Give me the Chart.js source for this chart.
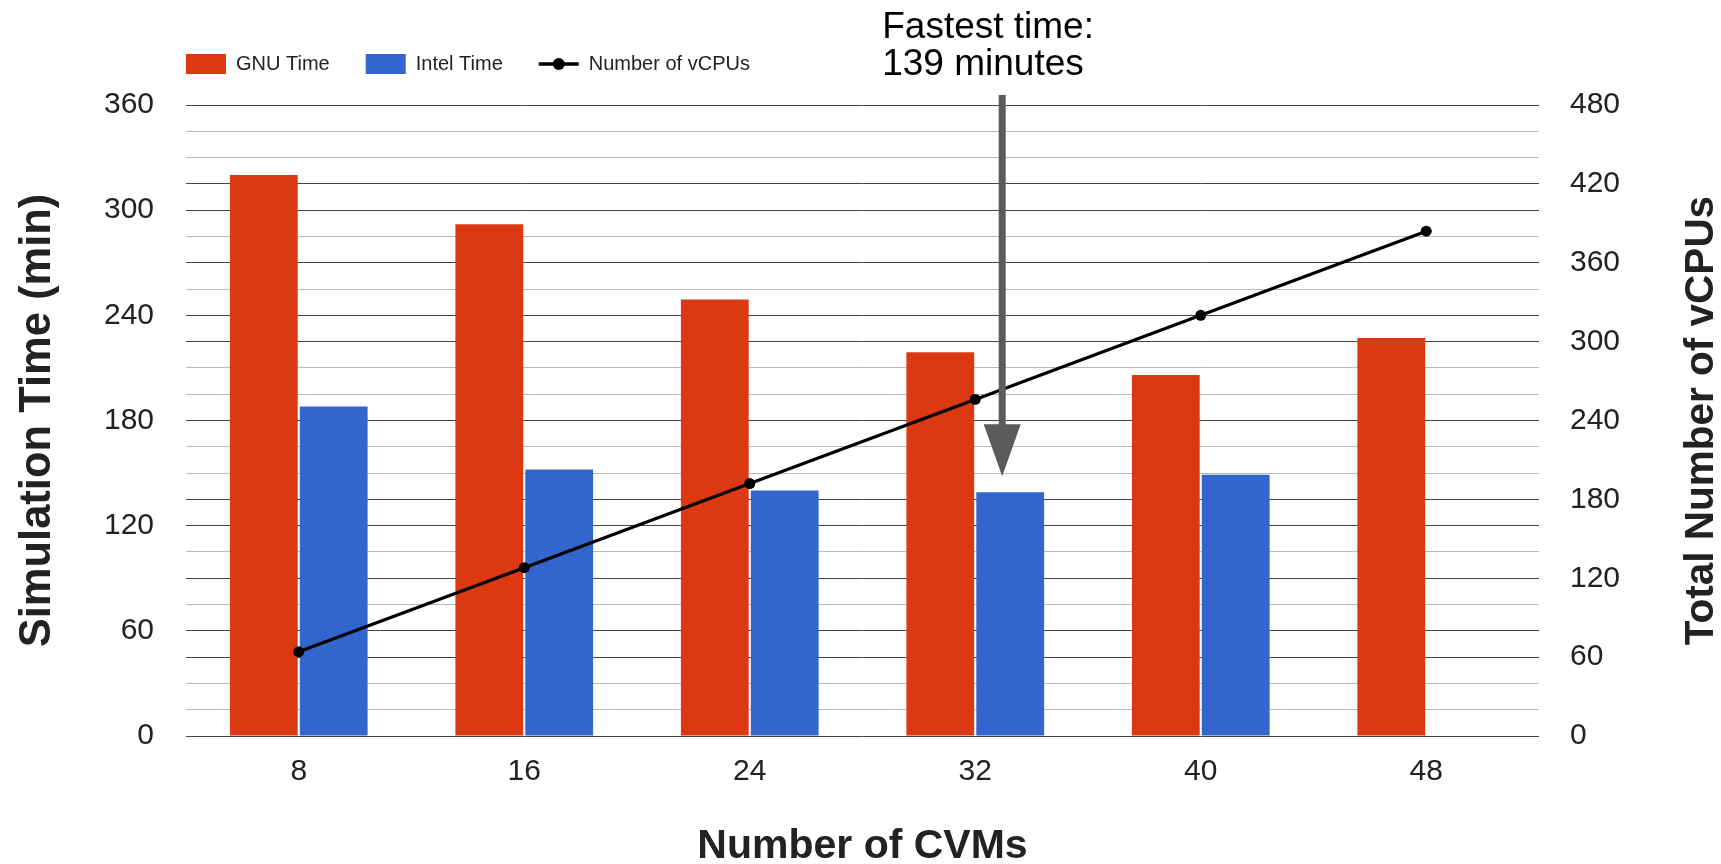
<!DOCTYPE html>
<html>
<head>
<meta charset="utf-8">
<title>Simulation Time vs Number of CVMs</title>
<script src="https://cdn.jsdelivr.net/npm/chart.js@4.4.1/dist/chart.umd.min.js"></script>
<style>
  html, body { margin: 0; padding: 0; background: #ffffff; }
  canvas { display: block; }
</style>
</head>
<body>
<canvas id="chart" width="1721" height="864" style="width:1721px;height:864px"></canvas>
<script>
// ---- data ----
const cvmCounts = ['8', '16', '24', '32', '40', '48'];
const gnuTime   = [320, 292, 249, 219, 206, 227];
const intelTime = [188, 152, 140, 139, 149, null];
const vcpuCount = [64, 128, 192, 256, 320, 384];
const timeTicks = [0, 60, 120, 180, 240, 300, 360];
const vcpuTicks = [0, 60, 120, 180, 240, 300, 360, 420, 480];

const seriesNames = ['GNU Time', 'Intel Time', 'Number of vCPUs'];
const axisTitles = {
  x: 'Number of CVMs',
  time: 'Simulation Time (min)',
  vcpu: 'Total Number of vCPUs'
};

// fastest Intel run, called out with an arrow
const fastestTime = Math.min(...intelTime.filter(v => v !== null));
const fastestIndex = intelTime.indexOf(fastestTime);
const noteLines = ['Fastest time:', fastestTime + ' minutes'];

// ---- styling ----
const FONT = "'Liberation Sans', Arial, Helvetica, sans-serif";
const TEXT = '#222222';
const RED = '#DC3912';
const BLUE = '#3366CC';
const GRID_DARK = '#444444';
const GRID_LIGHT = '#b9b9b9';
const ARROW = '#5b5b5b';
const PLOT_TOP = 105;
const LEGEND_FONT = 20;
const LEGEND_BOX_W = 40;
const LEGEND_BOX_H = 20;
const LEGEND_GAP = 36;
const LEGEND_X = 186;
const LEGEND_Y = 54;

Chart.defaults.font.family = FONT;
Chart.defaults.color = TEXT;

// legend placement, line-series legend marker, right axis title, callout arrow
const decorations = {
  id: 'decorations',
  beforeDraw(chart) {
    const lg = chart.legend;
    if (lg) {
      const w = lg.right - lg.left;
      lg.left = LEGEND_X - LEGEND_GAP;
      lg.right = lg.left + w;
      lg.top = LEGEND_Y - LEGEND_GAP;
    }
  },
  afterDraw(chart) {
    const { ctx, chartArea } = chart;

    // legend marker for the line series: a short line with a dot
    ctx.save();
    ctx.font = LEGEND_FONT + 'px ' + FONT;
    let x = LEGEND_X;
    for (let i = 0; i < 2; i++) {
      x += LEGEND_BOX_W + LEGEND_FONT / 2 + ctx.measureText(seriesNames[i]).width + LEGEND_GAP;
    }
    const my = LEGEND_Y + LEGEND_BOX_H / 2;
    ctx.strokeStyle = '#000';
    ctx.lineWidth = 3.5;
    ctx.beginPath();
    ctx.moveTo(x, my);
    ctx.lineTo(x + LEGEND_BOX_W, my);
    ctx.stroke();
    ctx.fillStyle = '#000';
    ctx.beginPath();
    ctx.arc(x + LEGEND_BOX_W / 2, my, 6, 0, Math.PI * 2);
    ctx.fill();
    ctx.restore();

    // right axis title, reading bottom to top
    ctx.save();
    ctx.translate(chart.width - 19, (chartArea.top + chartArea.bottom) / 2);
    ctx.rotate(-Math.PI / 2);
    ctx.font = 'bold 40.5px ' + FONT;
    ctx.fillStyle = TEXT;
    ctx.textAlign = 'center';
    ctx.textBaseline = 'middle';
    ctx.fillText(axisTitles.vcpu, 0, 0);
    ctx.restore();

    // callout arrow pointing at the fastest bar
    const bar = chart.getDatasetMeta(1).data[fastestIndex];
    if (bar) {
      const ax = bar.x - 8;
      const tipY = bar.y - 16;
      const headH = 52;
      const headHalf = 18.5;
      const shaftTop = 95;
      ctx.save();
      ctx.fillStyle = ARROW;
      ctx.fillRect(ax - 3.5, shaftTop, 7, tipY - headH - shaftTop + 1);
      ctx.beginPath();
      ctx.moveTo(ax - headHalf, tipY - headH);
      ctx.lineTo(ax + headHalf, tipY - headH);
      ctx.lineTo(ax, tipY);
      ctx.closePath();
      ctx.fill();

      ctx.fillStyle = '#000';
      ctx.font = '37px ' + FONT;
      ctx.textAlign = 'left';
      ctx.textBaseline = 'alphabetic';
      ctx.fillText(noteLines[0], ax - 120, 38);
      ctx.fillText(noteLines[1], ax - 120, 75);
      ctx.restore();
    }
  }
};

new Chart(document.getElementById('chart'), {
  data: {
    labels: cvmCounts,
    datasets: [
      {
        type: 'bar',
        label: seriesNames[0],
        data: gnuTime,
        backgroundColor: RED,
        borderWidth: 0,
        yAxisID: 'y',
        order: 1,
        categoryPercentage: 0.62,
        barPercentage: 0.97
      },
      {
        type: 'bar',
        label: seriesNames[1],
        data: intelTime,
        backgroundColor: BLUE,
        borderWidth: 0,
        yAxisID: 'y',
        order: 1,
        categoryPercentage: 0.62,
        barPercentage: 0.97
      },
      {
        type: 'line',
        label: seriesNames[2],
        data: vcpuCount,
        borderColor: '#000',
        backgroundColor: '#000',
        borderWidth: 3.2,
        pointRadius: 5.5,
        pointBackgroundColor: '#000',
        pointBorderWidth: 0,
        tension: 0,
        yAxisID: 'y1',
        order: 0
      }
    ]
  },
  options: {
    responsive: false,
    animation: false,
    devicePixelRatio: 1,
    // legend row occupies boxHeight + padding + 10 above the plot
    layout: { padding: { top: PLOT_TOP - (LEGEND_BOX_H + LEGEND_GAP + 10), left: 0, right: 0, bottom: 0 } },
    plugins: {
      tooltip: { enabled: false },
      legend: {
        position: 'top',
        align: 'start',
        fullSize: false,
        labels: {
          boxWidth: LEGEND_BOX_W,
          boxHeight: LEGEND_BOX_H,
          padding: LEGEND_GAP,
          color: TEXT,
          font: { size: LEGEND_FONT },
          sort: (a, b) => a.datasetIndex - b.datasetIndex,
          generateLabels(chart) {
            const items = Chart.defaults.plugins.legend.labels.generateLabels(chart);
            items.forEach(it => {
              it.lineWidth = 0;
              it.strokeStyle = 'rgba(0,0,0,0)';
              if (it.datasetIndex === 2) it.fillStyle = 'rgba(0,0,0,0)';
            });
            return items;
          }
        }
      }
    },
    scales: {
      x: {
        type: 'category',
        grid: { display: false, drawTicks: false },
        border: { display: false },
        ticks: { font: { size: 30 }, color: TEXT, padding: 18 },
        title: {
          display: true,
          text: axisTitles.x,
          color: TEXT,
          font: { size: 41, weight: 'bold', lineHeight: 0.85 },
          padding: { top: 0, bottom: 0 }
        },
        afterFit(scale) { scale.height = 128; }
      },
      y: {
        position: 'left',
        min: timeTicks[0],
        max: timeTicks[timeTicks.length - 1],
        grid: {
          drawTicks: false,
          lineWidth: 1,
          color(ctx) {
            const v = ctx.tick ? ctx.tick.value : 0;
            return (v % 60 === 0 || v % 45 === 0) ? GRID_DARK : GRID_LIGHT;
          }
        },
        border: { display: false },
        ticks: {
          stepSize: 15,
          autoSkip: false,
          padding: 32,
          font: { size: 30 },
          color: TEXT,
          callback: v => timeTicks.includes(v) ? String(v) : ''
        },
        title: {
          display: true,
          text: axisTitles.time,
          color: TEXT,
          font: { size: 43.5, weight: 'bold', lineHeight: 1 },
          padding: { top: 16, bottom: 0 }
        },
        afterFit(scale) { scale.width = 186; }
      },
      y1: {
        position: 'right',
        min: vcpuTicks[0],
        max: vcpuTicks[vcpuTicks.length - 1],
        grid: { display: false, drawTicks: false },
        border: { display: false },
        ticks: {
          stepSize: 60,
          autoSkip: false,
          padding: 31,
          font: { size: 30 },
          color: TEXT,
          callback: v => vcpuTicks.includes(v) ? String(v) : ''
        },
        afterFit(scale) { scale.width = 182; }
      }
    }
  },
  plugins: [decorations]
});
</script>
</body>
</html>
